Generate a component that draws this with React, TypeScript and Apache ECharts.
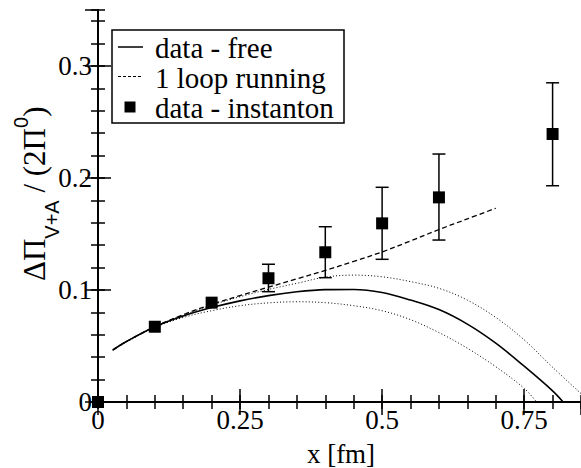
import React, { useEffect, useRef } from "react";
import * as echarts from "echarts";

// ---- data ----
const xTickValues = [0, 0.25, 0.5, 0.75];
const xTickLabels = ["0", "0.25", "0.5", "0.75"];
const yTickValues = [0, 0.1, 0.2, 0.3];
const yTickLabels = ["0", "0.1", "0.2", "0.3"];

const freeX = [0.026, 0.05, 0.1, 0.15, 0.2, 0.25, 0.3, 0.35, 0.4, 0.45, 0.5, 0.55, 0.6, 0.65, 0.7, 0.75, 0.8, 0.8186];
const freeY = [0.0464, 0.054, 0.0672, 0.0768, 0.0843, 0.0903, 0.095, 0.0984, 0.1003, 0.1005, 0.0978, 0.091, 0.0825, 0.0695, 0.0525, 0.032, 0.01, 0];

const upperX = [0.026, 0.05, 0.1, 0.15, 0.2, 0.25, 0.3, 0.35, 0.4, 0.45, 0.5, 0.55, 0.6, 0.65, 0.7, 0.75, 0.8, 0.85];
const upperY = [0.0464, 0.054, 0.0672, 0.0775, 0.0865, 0.094, 0.1005, 0.106, 0.1115, 0.1133, 0.1118, 0.1075, 0.1015, 0.091, 0.0755, 0.0555, 0.031, 0.0075];

const lowerX = [0.026, 0.05, 0.1, 0.15, 0.2, 0.25, 0.3, 0.35, 0.4, 0.45, 0.5, 0.55, 0.6, 0.65, 0.7, 0.75, 0.772];
const lowerY = [0.0464, 0.0535, 0.0665, 0.0755, 0.0815, 0.086, 0.0885, 0.0895, 0.0887, 0.086, 0.0815, 0.0735, 0.062, 0.048, 0.0315, 0.0122, 0];

const loopX = [0.026, 0.05, 0.1, 0.15, 0.2, 0.25, 0.3, 0.35, 0.4, 0.45, 0.5, 0.55, 0.6, 0.65, 0.7];
const loopY = [0.0464, 0.054, 0.0672, 0.078, 0.0872, 0.095, 0.1025, 0.11, 0.1175, 0.1255, 0.134, 0.1438, 0.154, 0.1635, 0.173];

const pointX = [0, 0.1, 0.2, 0.3, 0.4, 0.5, 0.6, 0.8];
const pointY = [0, 0.0672, 0.0887, 0.1105, 0.1337, 0.1595, 0.1827, 0.2393];

const errX = [0.3, 0.4, 0.5, 0.6, 0.8];
const errLow = [0.0985, 0.111, 0.1274, 0.1446, 0.1931];
const errHigh = [0.123, 0.1565, 0.1917, 0.2214, 0.285];

const legendNames = ["data - free", "1 loop running", "data - instanton"];

const SERIF = "Times New Roman";
const SANS = "Arial";

function zip(xs: number[], ys: number[]) {
  return xs.map((x, i) => [x, ys[i]]);
}

function measure(text: string, size: number, family: string) {
  const c = document.createElement("canvas").getContext("2d")!;
  c.font = `${size}px ${family}`;
  return c.measureText(text).width;
}

export default function App() {
  const ref = useRef<HTMLDivElement>(null);
  useEffect(() => {
    document.body.style.margin = "0";
    const chart = echarts.init(ref.current!, undefined, { renderer: "svg" });

    const axisCommon = {
      type: "value" as const,
      splitLine: { show: false },
    };
    const lineSt = { color: "#000", width: 1.8 };
    const tickSt = { color: "#000", width: 1.5 };

    const xLabel = (v: number) => {
      const i = xTickValues.findIndex((t) => Math.abs(t - v) < 1e-6);
      return i >= 0 ? xTickLabels[i] : "";
    };
    const yLabel = (v: number) => {
      const i = yTickValues.findIndex((t) => Math.abs(t - v) < 1e-6);
      return i >= 0 ? yTickLabels[i] : "";
    };

    const xAxes = [
      { ...axisCommon, min: 0, max: 0.85, interval: 0.25, position: "bottom",
        axisLine: { lineStyle: lineSt }, axisTick: { inside: true, length: 13, lineStyle: tickSt },
        axisLabel: { formatter: xLabel, fontSize: 27, fontFamily: SERIF, color: "#000", margin: 4, showMaxLabel: false } },
      { ...axisCommon, min: 0, max: 0.85, interval: 0.05, position: "bottom",
        axisLine: { show: false }, axisTick: { inside: true, length: 7, lineStyle: tickSt }, axisLabel: { show: false } },
      { ...axisCommon, min: 0, max: 0.85, interval: 0.25, position: "top",
        axisLine: { lineStyle: lineSt }, axisTick: { inside: true, length: 13, lineStyle: tickSt }, axisLabel: { show: false } },
      { ...axisCommon, min: 0, max: 0.85, interval: 0.05, position: "top",
        axisLine: { show: false }, axisTick: { inside: true, length: 7, lineStyle: tickSt }, axisLabel: { show: false } },
    ];
    const yAxes = [
      { ...axisCommon, min: 0, max: 0.35, interval: 0.1, position: "left",
        axisLine: { show: true, lineStyle: lineSt }, axisTick: { show: true, inside: true, length: 13, lineStyle: tickSt },
        axisLabel: { formatter: yLabel, fontSize: 27, fontFamily: SERIF, color: "#000", margin: 6, showMaxLabel: false } },
      { ...axisCommon, min: 0, max: 0.35, interval: 0.02, position: "left",
        axisLine: { show: false }, axisTick: { show: true, inside: true, length: 7, lineStyle: tickSt }, axisLabel: { show: false } },
      { ...axisCommon, min: 0, max: 0.35, interval: 0.1, position: "right",
        axisLine: { show: true, lineStyle: lineSt }, axisTick: { show: true, inside: true, length: 13, lineStyle: tickSt }, axisLabel: { show: false } },
      { ...axisCommon, min: 0, max: 0.35, interval: 0.02, position: "right",
        axisLine: { show: false }, axisTick: { show: true, inside: true, length: 7, lineStyle: tickSt }, axisLabel: { show: false } },
    ];

    // y-axis title pieces, rotated, reading bottom to top
    const mainFont = 31, subFont = 20;
    const pieces = [
      { t: "\u0394\u03A0", f: SERIF, s: mainFont, cx: 34.6 },
      { t: "V+A", f: SANS, s: subFont, cx: 51.5 },
      { t: " / (2\u03A0", f: SERIF, s: mainFont, cx: 34.6 },
      { t: "0", f: SANS, s: subFont, cx: 20.5 },
      { t: ")", f: SERIF, s: mainFont, cx: 34.6 },
    ];
    let yPos = 281;
    const titleTexts = pieces.map((p) => {
      const w = measure(p.t, p.s, p.f);
      const el = {
        type: "text", x: p.cx, y: yPos, rotation: Math.PI / 2,
        style: { text: p.t, fontFamily: p.f, fontSize: p.s, fill: "#000", align: "left", verticalAlign: "middle" },
      };
      yPos -= w;
      return el;
    });

    const legendSize = 29;
    const txt = (x: number, y: number, text: string, size: number, align = "left") => ({
      type: "text", x, y, z: 11,
      style: { text, fontFamily: SERIF, fontSize: size, fill: "#000", align, verticalAlign: "middle" },
    });
    const graphic = [
      ...titleTexts,
      txt(341, 454, "x [fm]", 27, "center"),
      { type: "rect", shape: { x: 112, y: 30, width: 232, height: 93 }, style: { fill: "#fff", stroke: "#000", lineWidth: 1.5 }, z: 10 },
      { type: "line", shape: { x1: 118, y1: 47, x2: 143, y2: 47 }, style: { stroke: "#000", lineWidth: 1.5 }, z: 11 },
      { type: "line", shape: { x1: 118, y1: 76.5, x2: 143, y2: 76.5 }, style: { stroke: "#000", lineWidth: 1.2, lineDash: [3, 2] }, z: 11 },
      { type: "rect", shape: { x: 124.5, y: 101.5, width: 11, height: 11 }, style: { fill: "#000" }, z: 11 },
      txt(155, 48, legendNames[0], legendSize),
      txt(155, 78, legendNames[1], legendSize),
      txt(155, 108, legendNames[2], legendSize),
    ];

    chart.setOption({
      animation: false,
      backgroundColor: "#fff",
      grid: { left: 98, top: 10, width: 484, height: 392, containLabel: false },
      xAxis: xAxes,
      yAxis: yAxes,
      graphic,
      series: [
        { name: legendNames[0], type: "line", data: zip(freeX, freeY), showSymbol: false, smooth: 0.35,
          lineStyle: { color: "#000", width: 1.6 } },
        { name: "upper", type: "line", data: zip(upperX, upperY), showSymbol: false, smooth: 0.35,
          lineStyle: { color: "#000", width: 1, type: [1, 2.2] } },
        { name: "lower", type: "line", data: zip(lowerX, lowerY), showSymbol: false, smooth: 0.35,
          lineStyle: { color: "#000", width: 1, type: [1, 2.2] } },
        { name: legendNames[1], type: "line", data: zip(loopX, loopY), showSymbol: false, smooth: 0.35,
          lineStyle: { color: "#000", width: 1.3, type: [5, 3] } },
        { name: "errors", type: "custom", data: errX.map((x, i) => [x, errLow[i], errHigh[i]]),
          clip: false,
          renderItem: (params: any, api: any) => {
            const x = api.value(0);
            const lo = api.coord([x, api.value(1)]);
            const hi = api.coord([x, api.value(2)]);
            const w = 6.5;
            const st = { stroke: "#000", lineWidth: 1.5 };
            return {
              type: "group",
              children: [
                { type: "line", shape: { x1: lo[0], y1: lo[1], x2: hi[0], y2: hi[1] }, style: st },
                { type: "line", shape: { x1: lo[0] - w, y1: lo[1], x2: lo[0] + w, y2: lo[1] }, style: st },
                { type: "line", shape: { x1: hi[0] - w, y1: hi[1], x2: hi[0] + w, y2: hi[1] }, style: st },
              ],
            };
          } },
        { name: legendNames[2], type: "scatter", data: zip(pointX, pointY), symbol: "rect", symbolSize: 12,
          clip: false, itemStyle: { color: "#000", opacity: 1 }, z: 5 },
      ],
    });
    return () => chart.dispose();
  }, []);
  return <div ref={ref} style={{ width: 581, height: 468 }} />;
}
